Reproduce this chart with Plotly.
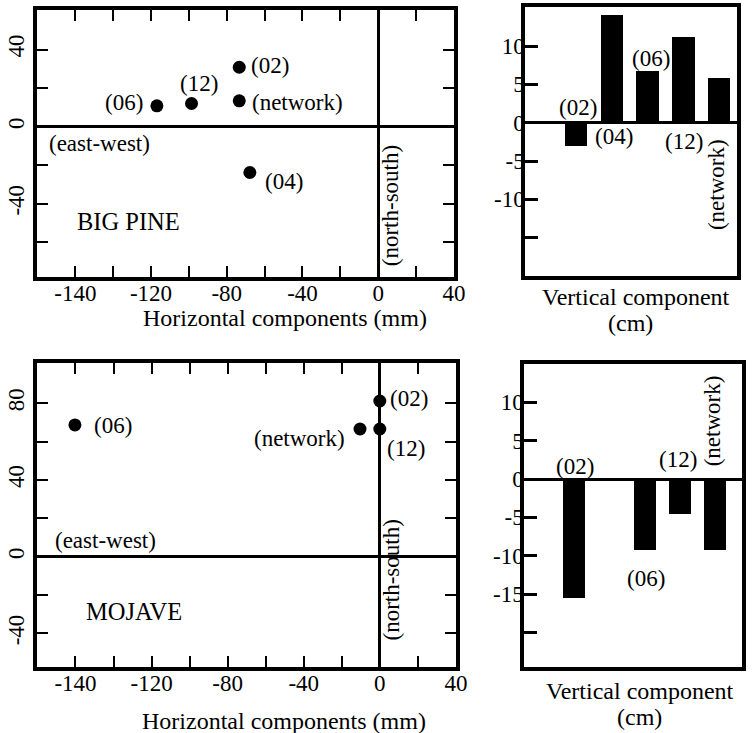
import plotly.graph_objects as go

FONT = "Liberation Serif"

# ---------------- data ----------------
# Big Pine horizontal components (mm)
bp_sites = ["(02)", "(network)", "(12)", "(06)", "(04)"]
bp_east_west = [-73.4, -73.4, -98.6, -116.9, -67.8]
bp_north_south = [30.8, 13.4, 12.0, 10.8, -23.8]

# Mojave horizontal components (mm)
mj_sites = ["(06)", "(network)", "(02)", "(12)"]
mj_east_west = [-160.3, -10.4, 0.0, 0.0]
mj_north_south = [68.7, 66.6, 81.2, 66.6]

# Vertical components (cm)
stations = ["(02)", "(04)", "(06)", "(12)", "(network)"]
bp_vertical = [-3.1, 14.1, 6.8, 11.2, 5.8]
mj_vertical = [-15.5, None, -9.3, -4.6, -9.3]

# tick labels (as printed in the original)
h_tick_values = [-160, -140, -120, -100, -80, -60, -40, -20, 0, 20, 40]
h_tick_labels = ["-140", "", "-120", "", "-80", "", "-40", "", "0", "", "40"]
bp_ns_tick_values = [-60, -40, -20, 0, 20, 40]
bp_ns_tick_labels = ["", "-40", "", "0", "", "40"]
mj_ns_tick_values = [-40, -20, 0, 20, 40, 60, 80]
mj_ns_tick_labels = ["-40", "", "0", "", "40", "", "80"]
bp_v_tick_values = [-15, -10, -5, 0, 5, 10]
bp_v_tick_labels = ["", "-10", "-5", "0", "5", "10"]
mj_v_tick_values = [-20, -15, -10, -5, 0, 5, 10]
mj_v_tick_labels = ["", "-15", "-10", "-5", "0", "5", "10"]

# ---------------- styles / label placement ----------------
bp_label_style = {
    "(02)": ("left", 10, 2),
    "(network)": ("left", 11, -2),
    "(12)": ("center", 7, 20),
    "(06)": ("right", -12, 3),
    "(04)": ("left", 13, -9),
}
mj_label_style = {
    "(06)": ("left", 17, -1),
    "(network)": ("right", -13, -10),
    "(02)": ("left", 8, 2),
    "(12)": ("left", 5, -20),
}
# bar label placement: station -> (y in axis units, xshift, angle)
bp_bar_label_pos = {
    "(02)": (2.0, 2, 0), "(04)": (-1.8, 2, 0), "(06)": (8.4, 3, 0),
    "(12)": (-2.4, 0, 0), "(network)": (-8.1, -2, -90),
}
mj_bar_label_pos = {
    "(02)": (1.6, 0, 0), "(06)": (-13.0, 1, 0),
    "(12)": (2.6, -2, 0), "(network)": (7.6, -3, -90),
}

W, H = 756, 733


def px_x(a, b):
    return [a / W, b / W]


def px_y(top, bottom):
    return [1 - bottom / H, 1 - top / H]


fig = go.Figure()

fig.add_trace(go.Scatter(x=bp_east_west, y=bp_north_south, mode="markers",
                         marker=dict(size=13, color="black"),
                         xaxis="x", yaxis="y", showlegend=False))
fig.add_trace(go.Bar(x=stations, y=bp_vertical, marker=dict(color="black", line=dict(width=0)),
                     width=0.63, xaxis="x2", yaxis="y2", showlegend=False))
fig.add_trace(go.Scatter(x=mj_east_west, y=mj_north_south, mode="markers",
                         marker=dict(size=13, color="black"),
                         xaxis="x3", yaxis="y3", showlegend=False))
fig.add_trace(go.Bar(x=stations, y=mj_vertical, marker=dict(color="black", line=dict(width=0)),
                     width=0.62, xaxis="x4", yaxis="y4", showlegend=False))

tickfont = dict(family=FONT, size=23, color="black")
box = dict(showline=True, linecolor="black", linewidth=4, showgrid=False)

h_x = dict(box, range=[-180, 40.2], tickmode="array", tickvals=h_tick_values,
           ticktext=h_tick_labels, ticks="inside", ticklen=11, tickwidth=2,
           tickcolor="black", mirror="ticks", zeroline=True, zerolinecolor="black",
           zerolinewidth=2.5, tickfont=tickfont, ticklabelstandoff=-8)

fig.update_layout(
    width=W, height=H,
    margin=dict(l=0, r=0, t=0, b=0),
    paper_bgcolor="white", plot_bgcolor="white",
    font=dict(family=FONT, color="black"),
    bargap=0,
    xaxis=dict(h_x, domain=px_x(38, 461), anchor="y"),
    yaxis=dict(box, domain=px_y(10, 277), anchor="x", range=[-78, 60.5],
               tickmode="array", tickvals=bp_ns_tick_values, ticktext=bp_ns_tick_labels,
               ticks="inside", ticklen=11, tickwidth=2, tickcolor="black", mirror="ticks",
               zeroline=True, zerolinecolor="black", zerolinewidth=2.5,
               tickangle=-90, tickfont=tickfont),
    xaxis2=dict(box, domain=px_x(533, 748), anchor="y2", type="category",
                range=[-1.43, 4.5], mirror=True, showticklabels=False, ticks="",
                zeroline=False),
    yaxis2=dict(box, domain=px_y(7, 276), anchor="x2", range=[-20, 15.1],
                tickmode="array", tickvals=bp_v_tick_values, ticktext=bp_v_tick_labels,
                ticks="inside", ticklen=13, tickwidth=2.5, tickcolor="black", mirror=True,
                zeroline=True, zerolinecolor="black", zerolinewidth=2.5, tickfont=tickfont,
                ticklabelstandoff=-8),
    xaxis3=dict(h_x, domain=px_x(38, 463), anchor="y3"),
    yaxis3=dict(box, domain=px_y(363, 667), anchor="x3", range=[-57.5, 101],
                tickmode="array", tickvals=mj_ns_tick_values, ticktext=mj_ns_tick_labels,
                ticks="inside", ticklen=11, tickwidth=2, tickcolor="black", mirror="ticks",
                zeroline=True, zerolinecolor="black", zerolinewidth=2.5,
                tickangle=-90, tickfont=tickfont),
    xaxis4=dict(box, domain=px_x(532, 753), anchor="y4", type="category",
                range=[-1.43, 4.75], mirror=True, showticklabels=False, ticks="",
                zeroline=False),
    yaxis4=dict(box, domain=px_y(364, 667), anchor="x4", range=[-24.5, 15],
                tickmode="array", tickvals=mj_v_tick_values, ticktext=mj_v_tick_labels,
                ticks="inside", ticklen=13, tickwidth=2.5, tickcolor="black", mirror=True,
                zeroline=True, zerolinecolor="black", zerolinewidth=2.5, tickfont=tickfont,
                ticklabelstandoff=-8),
)

ann = []
lab_font = dict(family=FONT, size=23, color="black")

for s, xv, yv in zip(bp_sites, bp_east_west, bp_north_south):
    xa, xs, ys = bp_label_style[s]
    ann.append(dict(x=xv, y=yv, xref="x", yref="y", text=s, showarrow=False,
                    xanchor=xa, yanchor="middle", xshift=xs, yshift=ys, font=lab_font))
for s, xv, yv in zip(mj_sites, mj_east_west, mj_north_south):
    xa, xs, ys = mj_label_style[s]
    ann.append(dict(x=xv, y=yv, xref="x3", yref="y3", text=s, showarrow=False,
                    xanchor=xa, yanchor="middle", xshift=xs, yshift=ys, font=lab_font))
for i, s in enumerate(stations):
    if s in bp_bar_label_pos:
        yv, xs, ang = bp_bar_label_pos[s]
        ann.append(dict(x=i, y=yv, xref="x2", yref="y2", text=s, showarrow=False,
                        xshift=xs, textangle=ang, font=lab_font))
    if s in mj_bar_label_pos:
        yv, xs, ang = mj_bar_label_pos[s]
        ann.append(dict(x=i, y=yv, xref="x4", yref="y4", text=s, showarrow=False,
                        xshift=xs, textangle=ang, font=lab_font))

# direction labels and site names
ann += [
    dict(x=-175.1, y=-8.5, xref="x", yref="y", text="(east-west)", xanchor="left",
         showarrow=False, font=lab_font),
    dict(x=6.2, y=-40.8, xref="x", yref="y", text="(north-south)", textangle=-90,
         showarrow=False, font=lab_font),
    dict(x=-160.3, y=-49.2, xref="x", yref="y", text="BIG PINE", xanchor="left",
         showarrow=False, font=dict(family=FONT, size=24.5, color="black")),
    dict(x=-171.7, y=8.7, xref="x3", yref="y3", text="(east-west)", xanchor="left",
         showarrow=False, font=lab_font),
    dict(x=6.2, y=-12.1, xref="x3", yref="y3", text="(north-south)", textangle=-90,
         showarrow=False, font=lab_font),
    dict(x=-155.3, y=-28.8, xref="x3", yref="y3", text="MOJAVE", xanchor="left",
         showarrow=False, font=dict(family=FONT, size=24.5, color="black")),
]

title_font = dict(family=FONT, size=24, color="black")
titles = [
    ("Horizontal components (mm)", 289, 318),
    ("Vertical component", 645, 297),
    ("(cm)", 640, 323),
    ("Horizontal components (mm)", 288, 721),
    ("Vertical component", 649, 691),
    ("(cm)", 649, 717),
]
for t, cx, cy in titles:
    ann.append(dict(x=cx / W, y=1 - cy / H, xref="paper", yref="paper", text=t,
                    showarrow=False, xanchor="center", yanchor="middle", font=title_font))

fig.update_layout(annotations=ann)
fig.write_html("out.html", config={"displayModeBar": False},
               post_script="document.body.style.margin='0px';")
